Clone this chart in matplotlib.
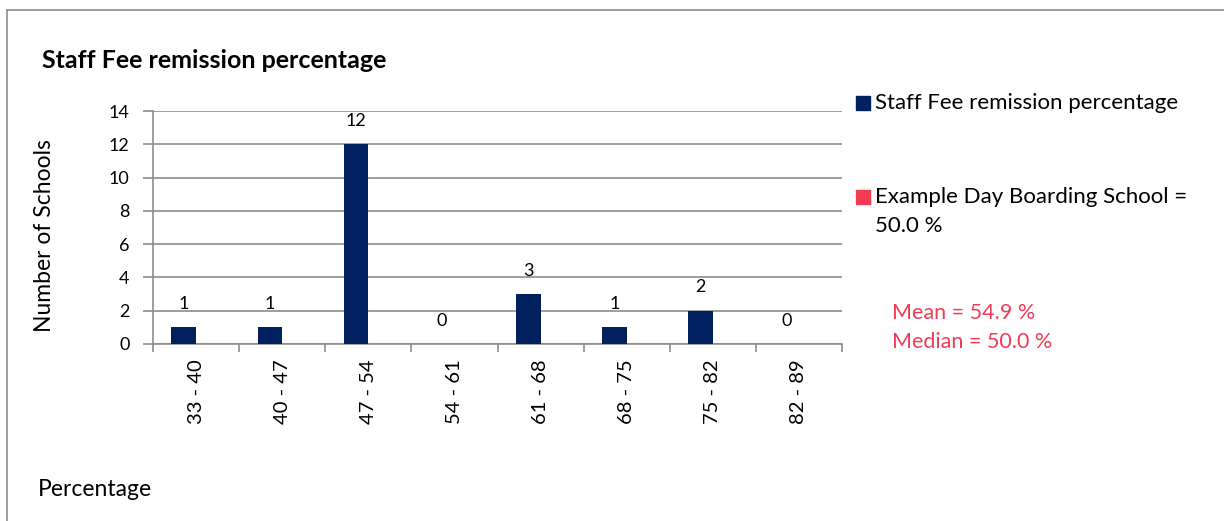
import numpy as np
import matplotlib.pyplot as plt
from matplotlib.patches import Rectangle

plt.rcParams['font.family'] = ['Lato', 'DejaVu Sans']

bins = ['33 - 40', '40 - 47', '47 - 54', '54 - 61', '61 - 68', '68 - 75', '75 - 82', '82 - 89']
counts = [1, 1, 12, 0, 3, 1, 2, 0]
example_school = [0, 0, 0, 0, 0, 0, 0, 0]
title = 'Staff Fee remission percentage'
series_name = 'Staff Fee remission percentage'
example_name = 'Example Day Boarding School =\n50.0 %'
mean_pct = 54.9
median_pct = 50.0

navy = '#002060'
red = '#F23A54'
grid = '#8C8C8C'

W, H = 1224, 521
fig = plt.figure(figsize=(W / 100, H / 100), dpi=100)

def fx(px):
    return px / W

def fy(py):
    return 1 - py / H

# chart area border (runs off the right and bottom edges)
fig.add_artist(Rectangle((fx(7), -0.1), 1.2, fy(10) + 0.1, transform=fig.transFigure,
                         fill=False, edgecolor='#8C8C8C', linewidth=1.2))

ax = fig.add_axes([fx(153), fy(344), fx(842) - fx(153), fy(111) - fy(344)])

x = np.arange(len(bins))
width = 1 / 3.5
ax.bar(x - width / 2, counts, width, color=navy, zorder=3)
ax.bar(x + width / 2, example_school, width, color=red, zorder=3)

for xi, c in zip(x, counts):
    ax.annotate(str(c), (xi - width / 2, c), xytext=(0, 11), textcoords='offset points',
                ha='center', va='bottom', fontsize=13, color='black')

ax.set_xlim(-0.5, len(bins) - 0.5)
ax.set_ylim(0, 14)
ax.set_yticks(range(0, 15, 2))
ax.yaxis.grid(True, color=grid, linewidth=1.2, zorder=0)
ax.set_axisbelow(True)

ax.set_xticks(np.arange(len(bins) + 1) - 0.5)
ax.set_xticklabels([])
ax.set_xticks(x, minor=True)
ax.set_xticklabels(bins, minor=True, rotation=90, fontsize=14.5)
ax.tick_params(axis='x', which='minor', length=0, pad=11)
ax.tick_params(axis='x', which='major', length=6, color=grid, width=1.2)
ax.tick_params(axis='y', length=7, color=grid, width=1.2, labelsize=13, pad=10)

for side in ['top', 'right']:
    ax.spines[side].set_visible(False)
for side in ['left', 'bottom']:
    ax.spines[side].set_color(grid)
    ax.spines[side].set_linewidth(1.2)

fig.text(fx(45), fy(236), 'Number of Schools', fontsize=16.5, rotation=90,
         va='center', ha='center')
fig.text(fx(42), fy(60), title, fontsize=18, fontweight='bold', va='center', ha='left')
fig.text(fx(38), fy(490), 'Percentage', fontsize=16.5, va='center', ha='left')

# legend
fig.add_artist(Rectangle((fx(856), fy(110)), fx(14), 14 / H, transform=fig.transFigure,
                         color=navy))
fig.text(fx(875), fy(103), series_name, fontsize=16, va='center', ha='left')
fig.add_artist(Rectangle((fx(856), fy(204)), fx(14), 14 / H, transform=fig.transFigure,
                         color=red))
fig.text(fx(875), fy(197), example_name.split('\n')[0], fontsize=16, va='center', ha='left')
fig.text(fx(875), fy(226), example_name.split('\n')[1], fontsize=16, va='center', ha='left')

fig.text(fx(892), fy(313), f'Mean = {mean_pct:.1f} %', fontsize=15.5, color=red,
         va='center', ha='left')
fig.text(fx(892), fy(342), f'Median = {median_pct:.1f} %', fontsize=15.5, color=red,
         va='center', ha='left')

fig.savefig('out.png', dpi=100)
